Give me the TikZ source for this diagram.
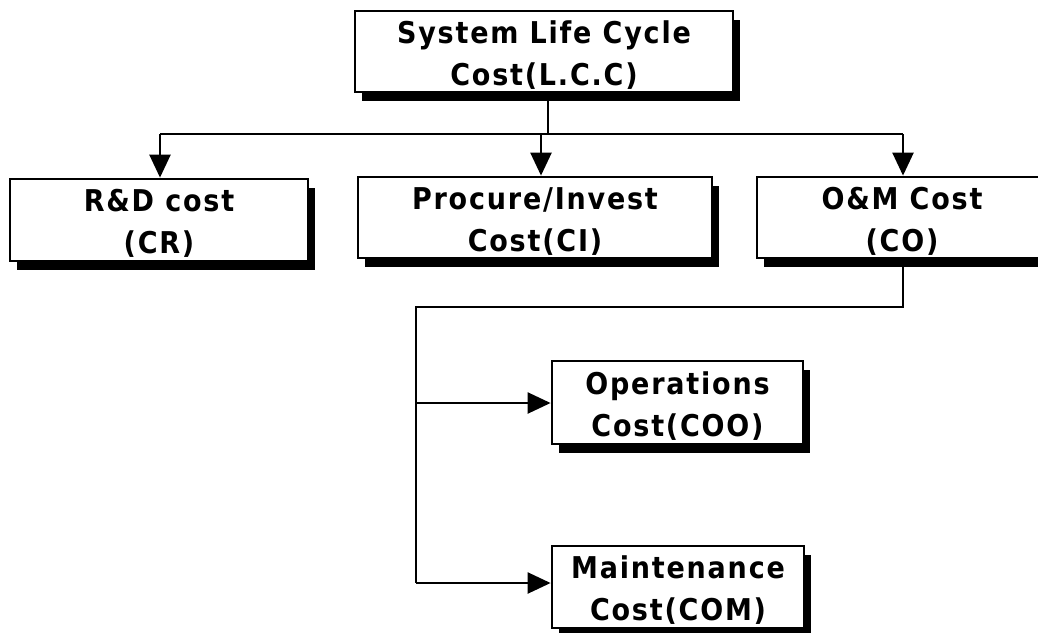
\documentclass[tikz,border=0pt]{standalone}
\usepackage{fontspec}
\newfontfamily\boxfont{DejaVu Sans Condensed}[LetterSpace=6]
\newcommand\liftline{\rule{0pt}{29pt}}
\usetikzlibrary{arrows.meta,shadows}
\begin{document}
\begin{tikzpicture}[x=1pt,y=-1pt,
  box/.style={draw=black, line width=2.8pt, fill=white, align=center, inner sep=0pt,
    font=\boxfont\bfseries\fontsize{30}{42}\selectfont,
    general shadow={fill=black, shadow xshift=7pt, shadow yshift=-9pt}},
  conn/.style={line width=2.4pt},
  arr/.style={line width=2.4pt, -{Triangle[length=23pt,width=21pt]}}]
\useasboundingbox (0,0) rectangle (1038,632);

\node[box, minimum width=378pt, minimum height=81pt] (lcc) at (544,51.5) {\liftline System Life Cycle\\Cost(L.C.C)};
\node[box, minimum width=298pt, minimum height=82pt] (rd) at (159,220) {\liftline R\&D cost\\(CR)};
\node[box, minimum width=354pt, minimum height=81pt] (pi) at (535,217.5) {\liftline Procure/Invest\\Cost(CI)};
\node[box, minimum width=290pt, minimum height=81pt] (om) at (902,217.5) {\liftline O\&M Cost\\(CO)};
\node[box, minimum width=251pt, minimum height=83pt] (op) at (677.5,402.5) {\liftline Operations\\Cost(COO)};
\node[box, minimum width=252pt, minimum height=82pt] (mt) at (678,587) {\liftline Maintenance\\Cost(COM)};

\coordinate (bus) at (548,134);
\coordinate (b1) at (160,134);
\coordinate (b2) at (541,134);
\coordinate (b3) at (903,134);
\coordinate (d1) at (903,307);
\coordinate (d2) at (416,307);
\coordinate (d3) at (416,403);
\coordinate (d4) at (416,583);

\draw[conn] (lcc.south -| bus) -- (bus);
\draw[conn] (b1) -- (b3);
\draw[arr] (b1) -- (rd.north -| b1);
\draw[arr] (b2) -- (pi.north -| b2);
\draw[arr] (b3) -- (om.north -| b3);
\draw[conn] (om.south -| d1) -- (d1) -- (d2) -- (d4);
\draw[arr] (d3) -- (op.west |- d3);
\draw[arr] (d4) -- (mt.west |- d4);
\end{tikzpicture}
\end{document}
